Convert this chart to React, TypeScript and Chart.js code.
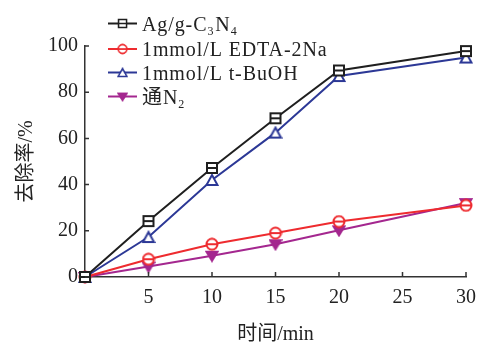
import React, { useEffect, useRef } from 'react';
import { Chart, registerables } from 'chart.js';

Chart.register(...registerables);

// ---- data ----
const timeMin = [0, 5, 10, 15, 20, 30];
const agValues = [0, 24.2, 47.2, 68.7, 89.4, 97.8];
const edtaValues = [0, 7.7, 14.2, 19.0, 24.0, 31.0];
const tbuohValues = [0, 17.3, 42.0, 62.5, 87.0, 95.0];
const n2Values = [0, 4.5, 9.2, 14.2, 20.2, 32.0];
const xTickValues = [5, 10, 15, 20, 25, 30];
const yTickValues = [0, 20, 40, 60, 80, 100];
const xTitle = '时间/min';
const yTitle = '去除率/%';
// legend labels, split in [text, isSubscript] runs
const agLabel: [string, boolean][] = [['Ag/g-C', false], ['3', true], ['N', false], ['4', true]];
const edtaLabel: [string, boolean][] = [['1mmol/L EDTA-2Na', false]];
const tbuohLabel: [string, boolean][] = [['1mmol/L t-BuOH', false]];
const n2Label: [string, boolean][] = [['通N', false], ['2', true]];

const FONT = '"Liberation Serif", "Noto Sans CJK SC", serif';
const COLORS = { ag: '#1f1f1f', edta: '#ee2b2f', tbuoh: '#2c3896', n2: '#a4278f', axis: '#333333', text: '#222222' };

function makeMarker(kind: string, color: string): HTMLCanvasElement {
  const c = document.createElement('canvas');
  const s = 14;
  c.width = s;
  c.height = s;
  const ctx = c.getContext('2d')!;
  ctx.lineWidth = 2;
  ctx.strokeStyle = color;
  ctx.fillStyle = '#ffffff';
  const m = s / 2;
  if (kind === 'square') {
    ctx.fillRect(2, 2, 10, 10);
    ctx.strokeRect(2, 2, 10, 10);
    ctx.beginPath();
    ctx.moveTo(3, m);
    ctx.lineTo(11, m);
    ctx.stroke();
  } else if (kind === 'circle') {
    ctx.beginPath();
    ctx.arc(m, m, 5.5, 0, Math.PI * 2);
    ctx.fill();
    ctx.stroke();
    ctx.beginPath();
    ctx.moveTo(m - 5, m);
    ctx.lineTo(m + 5, m);
    ctx.stroke();
  } else if (kind === 'triUp') {
    ctx.beginPath();
    ctx.moveTo(m, 2);
    ctx.lineTo(m + 5.5, 12);
    ctx.lineTo(m - 5.5, 12);
    ctx.closePath();
    ctx.fill();
    ctx.stroke();
  } else {
    ctx.fillStyle = color;
    ctx.beginPath();
    ctx.moveTo(m - 5.5, 3);
    ctx.lineTo(m + 5.5, 3);
    ctx.lineTo(m, 12);
    ctx.closePath();
    ctx.fill();
    ctx.stroke();
  }
  return c;
}

export default function App() {
  const ref = useRef<HTMLCanvasElement | null>(null);

  useEffect(() => {
    document.body.style.margin = '0';
    const canvas = ref.current;
    if (!canvas) return;

    const markers = {
      ag: makeMarker('square', COLORS.ag),
      edta: makeMarker('circle', COLORS.edta),
      tbuoh: makeMarker('triUp', COLORS.tbuoh),
      n2: makeMarker('triDown', COLORS.n2),
    };

    const toPts = (vals: number[]) => timeMin.map((t, i) => ({ x: t, y: vals[i] }));

    const legendItems = [
      { label: agLabel, color: COLORS.ag, marker: markers.ag },
      { label: edtaLabel, color: COLORS.edta, marker: markers.edta },
      { label: tbuohLabel, color: COLORS.tbuoh, marker: markers.tbuoh },
      { label: n2Label, color: COLORS.n2, marker: markers.n2 },
    ];

    const innerTicks = {
      id: 'innerTicks',
      afterDraw(chart: any) {
        const ctx = chart.ctx;
        const xs = chart.scales.x;
        const ys = chart.scales.y;
        const area = chart.chartArea;
        ctx.save();
        ctx.strokeStyle = COLORS.axis;
        ctx.lineWidth = 1.5;
        ctx.beginPath();
        xTickValues.forEach((v) => {
          const px = xs.getPixelForValue(v);
          ctx.moveTo(px, area.bottom);
          ctx.lineTo(px, area.bottom - 5);
        });
        yTickValues.forEach((v) => {
          const py = ys.getPixelForValue(v);
          ctx.moveTo(area.left, py);
          ctx.lineTo(area.left + 4, py);
        });
        ctx.stroke();
        ctx.restore();
      },
    };

    const customLegend = {
      id: 'customLegend',
      afterDraw(chart: any) {
        const ctx = chart.ctx;
        ctx.save();
        const x0 = 108;
        const x1 = 137;
        const tx = 142;
        const rows = [23.5, 49, 72.5, 96.5];
        legendItems.forEach((item, i) => {
          const y = rows[i];
          ctx.strokeStyle = item.color;
          ctx.lineWidth = 2;
          ctx.beginPath();
          ctx.moveTo(x0, y);
          ctx.lineTo(x1, y);
          ctx.stroke();
          const mk = item.marker;
          const sz = mk.width * 0.8;
          ctx.drawImage(mk, (x0 + x1) / 2 - sz / 2, y - sz / 2, sz, sz);
          let cx = tx;
          ctx.fillStyle = COLORS.text;
          ctx.textBaseline = 'alphabetic';
          (ctx as any).letterSpacing = '0.9px';
          item.label.forEach(([txt, sub]) => {
            ctx.font = sub ? `12px ${FONT}` : `20px ${FONT}`;
            ctx.fillText(txt, cx, y + 7 + (sub ? 4 : 0));
            cx += ctx.measureText(txt).width + (sub ? 1 : 0);
          });
          (ctx as any).letterSpacing = '0px';
        });
        ctx.restore();
      },
    };

    const mk = (label: string, vals: number[], color: string, marker: HTMLCanvasElement) => ({
      label,
      data: toPts(vals),
      borderColor: color,
      backgroundColor: color,
      borderWidth: 2,
      pointStyle: marker,
      pointRadius: 6,
      pointHoverRadius: 6,
      tension: 0,
      clip: false as any,
    });

    const chart = new Chart(canvas, {
      type: 'line',
      data: {
        datasets: [
          mk('Ag/g-C3N4', agValues, COLORS.ag, markers.ag),
          mk('1mmol/L EDTA-2Na', edtaValues, COLORS.edta, markers.edta),
          mk('1mmol/L t-BuOH', tbuohValues, COLORS.tbuoh, markers.tbuoh),
          mk('通N2', n2Values, COLORS.n2, markers.n2),
        ],
      },
      options: {
        responsive: false,
        animation: false,
        devicePixelRatio: 1,
        layout: { padding: { left: 0, right: 26, top: 46, bottom: 0 } },
        plugins: { legend: { display: false }, tooltip: { enabled: false } },
        scales: {
          x: {
            type: 'linear',
            min: 0,
            max: 30,
            afterBuildTicks: (scale: any) => {
              scale.ticks = xTickValues.map((v) => ({ value: v }));
            },
            afterFit: (scale: any) => {
              scale.height = 67;
            },
            grid: { display: false, drawTicks: false },
            border: { display: true, color: COLORS.axis, width: 1.5 },
            ticks: { color: COLORS.text, font: { family: FONT, size: 20 }, padding: 9, maxRotation: 0 },
            title: { display: true, text: xTitle, color: COLORS.text, font: { family: FONT, size: 20 }, padding: { top: 0, bottom: -3 } },
          },
          y: {
            type: 'linear',
            min: 0,
            max: 100,
            afterBuildTicks: (scale: any) => {
              scale.ticks = yTickValues.map((v) => ({ value: v }));
            },
            afterFit: (scale: any) => {
              scale.width = 85;
            },
            grid: { display: false, drawTicks: false },
            border: { display: true, color: COLORS.axis, width: 1.5 },
            ticks: { color: COLORS.text, font: { family: FONT, size: 20 }, padding: 7 },
            title: { display: true, text: yTitle, color: COLORS.text, font: { family: FONT, size: 20 }, padding: { top: 15, bottom: 0 } },
          },
        },
      },
      plugins: [innerTicks, customLegend],
    });

    return () => chart.destroy();
  }, []);

  return (
    <div style={{ width: 492, height: 344 }}>
      <canvas ref={ref} width={492} height={344} style={{ display: 'block', width: 492, height: 344 }} />
    </div>
  );
}
